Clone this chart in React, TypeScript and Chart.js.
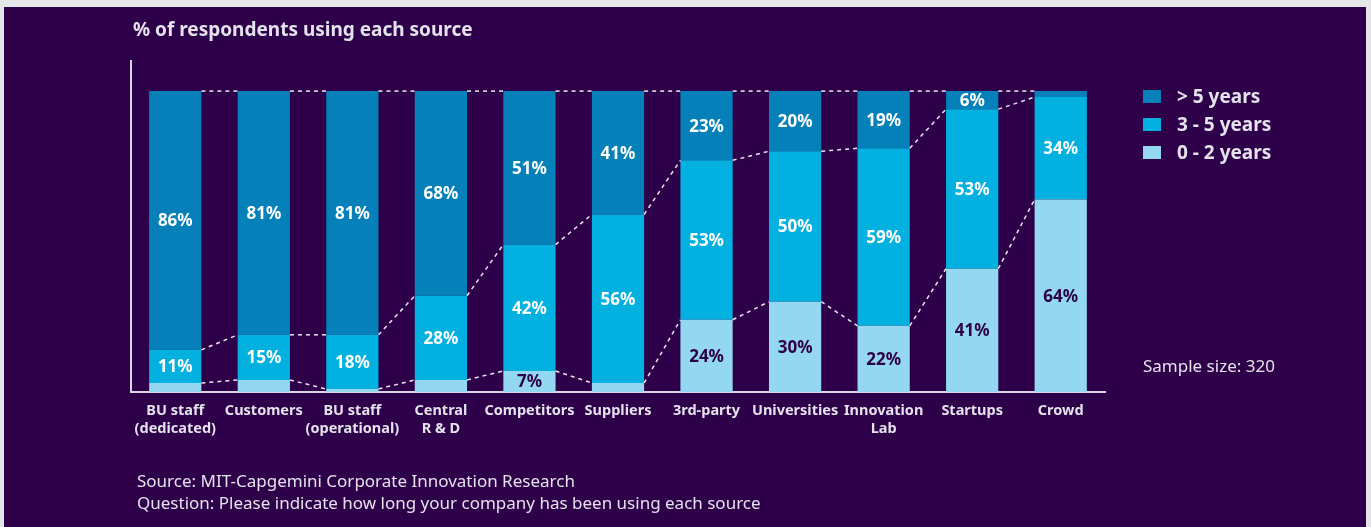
import React, { useEffect, useRef } from "react";
import { Chart, registerables } from "chart.js";

Chart.register(...registerables);

const categories: (string | string[])[] = [
  ["BU staff", "(dedicated)"],
  "Customers",
  ["BU staff", "(operational)"],
  ["Central", "R & D"],
  "Competitors",
  "Suppliers",
  "3rd-party",
  "Universities",
  ["Innovation", "Lab"],
  "Startups",
  "Crowd",
];
const years0to2 = [3, 4, 1, 4, 7, 3, 24, 30, 22, 41, 64];
const years3to5 = [11, 15, 18, 28, 42, 56, 53, 50, 59, 53, 34];
const yearsOver5 = [86, 81, 81, 68, 51, 41, 23, 20, 19, 6, 2];

const seriesNames = ["0 - 2 years", "3 - 5 years", "> 5 years"];
const legendOrder = ["> 5 years", "3 - 5 years", "0 - 2 years"];

const C_BG = "#2e0049";
const C_PAGE = "#e5e6e8";
const C_DARK = "#0580b8";
const C_MID = "#02b1e0";
const C_LIGHT = "#93d8f0";
const C_TEXT = "#e4e2ec";
const FONT = "'Noto Sans', sans-serif";

const colorFor: Record<string, string> = {
  "> 5 years": C_DARK,
  "3 - 5 years": C_MID,
  "0 - 2 years": C_LIGHT,
};

const decorPlugin = {
  id: "decor",
  beforeDraw(chart: any) {
    const ctx = chart.ctx;
    ctx.save();
    ctx.fillStyle = C_PAGE;
    ctx.fillRect(0, 0, chart.width, chart.height);
    ctx.fillStyle = C_BG;
    ctx.fillRect(4, 7, 1362, 520);
    ctx.restore();
  },
  afterDatasetsDraw(chart: any) {
    const ctx = chart.ctx;
    ctx.save();
    ctx.strokeStyle = "#e8e6f0";
    ctx.lineWidth = 1.5;
    ctx.setLineDash([4, 4]);
    for (let d = 0; d < chart.data.datasets.length; d++) {
      const meta = chart.getDatasetMeta(d);
      const els = meta.data;
      for (let i = 0; i < els.length - 1; i++) {
        const a = els[i];
        const b = els[i + 1];
        ctx.beginPath();
        ctx.moveTo(a.x + a.width / 2, a.y);
        ctx.lineTo(b.x - b.width / 2, b.y);
        ctx.stroke();
      }
    }
    ctx.setLineDash([]);
    ctx.textAlign = "center";
    ctx.textBaseline = "middle";
    ctx.font = `bold 17px ${FONT}`;
    chart.data.datasets.forEach((ds: any, d: number) => {
      const meta = chart.getDatasetMeta(d);
      meta.data.forEach((el: any, i: number) => {
        const v = ds.data[i];
        if (v < 5) return;
        ctx.fillStyle = d === 0 ? "#2e0049" : "#ffffff";
        ctx.fillText(`${v}%`, el.x, (el.y + el.base) / 2 + 1);
      });
    });
    ctx.restore();
  },
  afterDraw(chart: any) {
    const ctx = chart.ctx;
    ctx.save();
    ctx.fillStyle = C_TEXT;
    ctx.textBaseline = "middle";
    ctx.textAlign = "left";
    ctx.font = `bold 19px ${FONT}`;
    ctx.fillText("% of respondents using each source", 133, 31);
    legendOrder.forEach((name, k) => {
      const y = 97 + k * 28;
      ctx.fillStyle = colorFor[name];
      ctx.fillRect(1143, y - 7, 18, 13);
      ctx.fillStyle = C_TEXT;
      ctx.font = `bold 19px ${FONT}`;
      ctx.fillText(name, 1177, y + 1);
    });
    ctx.font = `17px ${FONT}`;
    ctx.fillText("Sample size: 320", 1143, 367);
    ctx.fillText("Source: MIT-Capgemini Corporate Innovation Research", 137, 482);
    ctx.fillText("Question: Please indicate how long your company has been using each source", 137, 504);
    ctx.restore();
  },
};

export default function App() {
  const ref = useRef<HTMLCanvasElement>(null);
  useEffect(() => {
    if (!ref.current) return;
    const colors = [C_LIGHT, C_MID, C_DARK];
    const values = [years0to2, years3to5, yearsOver5];
    const chart = new Chart(ref.current, {
      type: "bar",
      data: {
        labels: categories,
        datasets: values.map((v, i) => ({
          label: seriesNames[i],
          data: v,
          backgroundColor: colors[i],
          borderWidth: 0,
          barPercentage: 0.59,
          categoryPercentage: 1,
        })),
      },
      options: {
        animation: false,
        responsive: false,
        maintainAspectRatio: false,
        layout: { padding: { left: 131, right: 266, top: 61, bottom: 0 } },
        plugins: { legend: { display: false }, tooltip: { enabled: false } },
        scales: {
          x: {
            stacked: true,
            grid: { display: false },
            border: { display: true, color: "#d8d6e0", width: 2 },
            ticks: {
              color: C_TEXT,
              font: { family: FONT, weight: "bold", size: 14.5, lineHeight: 1.3 },
              padding: 1,
              maxRotation: 0,
              autoSkip: false,
            },
            afterFit: (s: any) => {
              s.height = 135;
            },
          },
          y: {
            stacked: true,
            min: 0,
            max: 110,
            grid: { display: false },
            border: { display: true, color: "#d8d6e0", width: 2 },
            ticks: { display: false },
            afterFit: (s: any) => {
              s.width = 0;
            },
          },
        },
      },
      plugins: [decorPlugin],
    });
    return () => chart.destroy();
  }, []);
  return (
    <div style={{ position: "fixed", left: 0, top: 0, width: 1371, height: 527 }}>
      <canvas ref={ref} width={1371} height={527} style={{ width: 1371, height: 527, display: "block" }} />
    </div>
  );
}
